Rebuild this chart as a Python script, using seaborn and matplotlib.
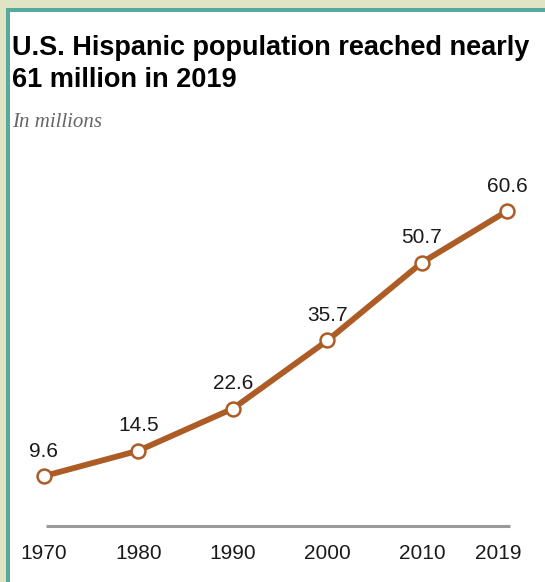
import numpy as np
import pandas as pd
import matplotlib
matplotlib.use("Agg")
import matplotlib.pyplot as plt
from matplotlib.patches import Rectangle
from matplotlib.transforms import ScaledTranslation
import seaborn as sns

# data
years = [1970, 1980, 1990, 2000, 2010, 2019]
population = [9.6, 14.5, 22.6, 35.7, 50.7, 60.6]
labels = ["9.6", "14.5", "22.6", "35.7", "50.7", "60.6"]
tick_labels = ["1970", "1980", "1990", "2000", "2010", "2019"]

df = pd.DataFrame({"year": years, "pop": population})

sns.set_style("white")
plt.rcParams["font.family"] = ["Liberation Sans", "DejaVu Sans"]

brown = "#ad5c26"

fig = plt.figure(figsize=(5.45, 5.82), dpi=100)
ax = fig.add_axes([30 / 545, 42 / 582, 500 / 545, 370 / 582])

sns.lineplot(data=df, x="year", y="pop", ax=ax, color=brown, linewidth=4.2,
             marker="o", markersize=10, markerfacecolor="white",
             markeredgecolor=brown, markeredgewidth=1.8, zorder=3)

for x, y, t in zip(years, population, labels):
    ax.annotate(t, (x, y), xytext=(0, 25), textcoords="offset pixels",
                ha="center", va="center", fontsize=15, color="#1a1a1a")

# baseline
ax.hlines(0, 1970.2, 2019.3, color="#9a9a9a", linewidth=2.2, zorder=1)

ax.set_xlim(1968.52, 2021.43)
ax.set_ylim(-2.69, 68.5)
ax.set_xticks(years)
ax.set_xticklabels(tick_labels, fontsize=15, color="#1a1a1a")
ax.set_yticks([])
ax.tick_params(axis="x", length=0, pad=3)
ax.set_xlabel("")
ax.set_ylabel("")
for s in ax.spines.values():
    s.set_visible(False)

# last year label sits a little left of its point
last = ax.get_xticklabels()[-1]
last.set_transform(last.get_transform() + ScaledTranslation(-9 / 100, 0, fig.dpi_scale_trans))

# title and subtitle
fig.text(12 / 545, 1 - 55 / 582, "U.S. Hispanic population reached nearly",
         fontsize=19.5, fontweight="bold", color="black", va="baseline", ha="left")
fig.text(12 / 545, 1 - 87 / 582, "61 million in 2019",
         fontsize=19.5, fontweight="bold", color="black", va="baseline", ha="left")
fig.text(12 / 545, 1 - 127 / 582, "In millions", fontsize=15, style="italic",
         family=["Liberation Serif", "DejaVu Serif"], color="#666666", va="baseline", ha="left")

# frame strips at top and left
fig.patches.append(Rectangle((0, 1 - 8 / 582), 1, 8 / 582, transform=fig.transFigure,
                             facecolor="#e0e4c4", edgecolor="none", zorder=0))
fig.patches.append(Rectangle((0, 0), 6 / 545, 1, transform=fig.transFigure,
                             facecolor="#e0e4c4", edgecolor="none", zorder=0))
fig.patches.append(Rectangle((6 / 545, 1 - 12 / 582), 1, 4 / 582, transform=fig.transFigure,
                             facecolor="#58a99b", edgecolor="none", zorder=1))
fig.patches.append(Rectangle((6 / 545, 0), 4 / 545, 1 - 8 / 582, transform=fig.transFigure,
                             facecolor="#58a99b", edgecolor="none", zorder=1))

fig.savefig("out.png", dpi=100)
